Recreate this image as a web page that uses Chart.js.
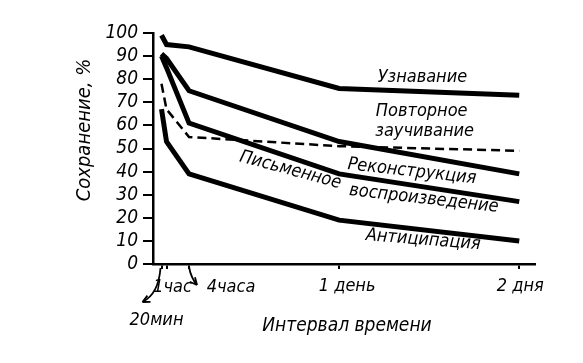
<!DOCTYPE html>
<html>
<head>
<meta charset="utf-8">
<script src="https://cdn.jsdelivr.net/npm/chart.js@4"></script>
<style>
  html, body { margin: 0; padding: 0; background: #fff; }
  #c { display: block; }
</style>
</head>
<body>
<canvas id="c" width="583" height="363"></canvas>
<script>
// time since learning, hours: 20 min, 1 h, 4 h, 1 day, 2 days
const hours = [1 / 3, 1, 4, 24, 48];

// retention, %
const recognition    = [99, 95, 94, 76, 73];
const relearning     = [78, 67, 55, 51, 49];
const reconstruction = [91, 89, 75, 53, 39];
const writtenRecall  = [90, 85, 61, 39, 27];
const anticipation   = [67, 53, 39, 19, 10];

const yTicks = [0, 10, 20, 30, 40, 50, 60, 70, 80, 90, 100];
const xTickHours = [1 / 3, 1, 4, 24, 48];

const FONT = '"DejaVu Sans Condensed", "DejaVu Sans", sans-serif';

const pts = arr => arr.map((v, i) => ({x: hours[i], y: v}));

const solid = (label, arr) => ({
    label, data: pts(arr),
    borderColor: '#000', borderWidth: 5, pointRadius: 0,
    borderJoinStyle: 'miter', tension: 0, fill: false
});

// curve labels, anchored in data units (hours, %)
const curveLabels = [
    {text: 'Узнавание',       h: 35.1, v: 81.0, rot: 0},
    {text: 'Повторное',       h: 35.0, v: 66.2, rot: 0},
    {text: 'заучивание',      h: 35.4, v: 57.6, rot: 0},
    {text: 'Реконструкция',   h: 33.7, v: 40.0, rot: 6.4},
    {text: 'Письменное',      h: 17.5, v: 40.6, rot: 15},
    {text: 'воспроизведение', h: 35.3, v: 28.2, rot: 6.5},
    {text: 'Антиципация',     h: 35.2, v: 10.4, rot: 4.5}
];

function arrow(ctx, x0, y0, cx, cy, x1, y1) {
    ctx.beginPath();
    ctx.moveTo(x0, y0);
    ctx.quadraticCurveTo(cx, cy, x1, y1);
    ctx.stroke();
    const a = Math.atan2(y1 - cy, x1 - cx);
    const L = 8, w = 0.45;
    ctx.beginPath();
    ctx.moveTo(x1, y1);
    ctx.lineTo(x1 - L * Math.cos(a - w), y1 - L * Math.sin(a - w));
    ctx.moveTo(x1, y1);
    ctx.lineTo(x1 - L * Math.cos(a + w), y1 - L * Math.sin(a + w));
    ctx.stroke();
}

const textPlugin = {
    id: 'texts',
    afterDraw(chart) {
        const {ctx, scales: {x, y}} = chart;
        ctx.save();
        ctx.fillStyle = '#000';
        ctx.strokeStyle = '#000';
        ctx.textAlign = 'center';
        ctx.textBaseline = 'middle';

        // curve labels
        ctx.font = 'italic 18px ' + FONT;
        curveLabels.forEach(l => {
            ctx.save();
            ctx.translate(x.getPixelForValue(l.h), y.getPixelForValue(l.v));
            ctx.rotate(l.rot * Math.PI / 180);
            ctx.fillText(l.text, 0, 0);
            ctx.restore();
        });

        // x tick labels with the arrows
        ctx.font = 'italic 18px ' + FONT;
        const p20 = x.getPixelForValue(xTickHours[0]);
        const p1 = x.getPixelForValue(xTickHours[1]);
        const p4 = x.getPixelForValue(xTickHours[2]);
        const pd1 = x.getPixelForValue(xTickHours[3]);
        const pd2 = x.getPixelForValue(xTickHours[4]);
        const base = y.getPixelForValue(0);
        ctx.fillText('1час', p1 + 6, base + 23);
        ctx.fillText('4часа', p4 + 42, base + 23);
        ctx.fillText('1 день', pd1 + 8, base + 22);
        ctx.fillText('2 дня', pd2 + 1, base + 22);
        ctx.fillText('20мин', p20 - 5, base + 56);

        ctx.lineWidth = 1.8;
        arrow(ctx, p20 - 1, base + 4, p20 - 3, base + 30, p20 - 19, base + 38);
        arrow(ctx, p4, base + 3, p4 + 2, base + 14, p4 + 8, base + 21);

        // axis titles
        ctx.font = 'italic 19px ' + FONT;
        ctx.fillText('Интервал времени', 347, 326);
        ctx.save();
        ctx.translate(85, 130);
        ctx.rotate(-Math.PI / 2);
        ctx.font = 'italic 20px ' + FONT;
        ctx.fillText('Сохранение, %', 0, 0);
        ctx.restore();

        ctx.restore();
    }
};

new Chart(document.getElementById('c'), {
    type: 'line',
    data: {
        datasets: [
            solid('Узнавание', recognition),
            {
                label: 'Повторное заучивание', data: pts(relearning),
                borderColor: '#000', borderWidth: 2.5, borderDash: [9, 5],
                pointRadius: 0, tension: 0, fill: false
            },
            solid('Реконструкция', reconstruction),
            solid('Письменное воспроизведение', writtenRecall),
            solid('Антиципация', anticipation)
        ]
    },
    options: {
        responsive: false,
        animation: false,
        layout: {padding: {top: 33, right: 48, left: 0, bottom: 0}},
        plugins: {legend: {display: false}, tooltip: {enabled: false}},
        scales: {
            x: {
                type: 'linear', min: -0.8, max: 50.1,
                afterBuildTicks: s => { s.ticks = xTickHours.map(v => ({value: v})); },
                afterFit: s => { s.height = 99; },
                grid: {drawOnChartArea: false, tickLength: 5, color: '#000', lineWidth: 2},
                border: {color: '#000', width: 2.5},
                ticks: {display: false}
            },
            y: {
                min: 0, max: 100,
                afterBuildTicks: s => { s.ticks = yTicks.map(v => ({value: v})); },
                afterFit: s => { s.width = 153; },
                grid: {drawOnChartArea: false, tickLength: 10, color: '#000', lineWidth: 2},
                border: {color: '#000', width: 2.5},
                ticks: {
                    color: '#000', padding: 5, autoSkip: false,
                    font: {family: FONT, size: 19, style: 'italic'}
                }
            }
        }
    },
    plugins: [textPlugin]
});
</script>
</body>
</html>
